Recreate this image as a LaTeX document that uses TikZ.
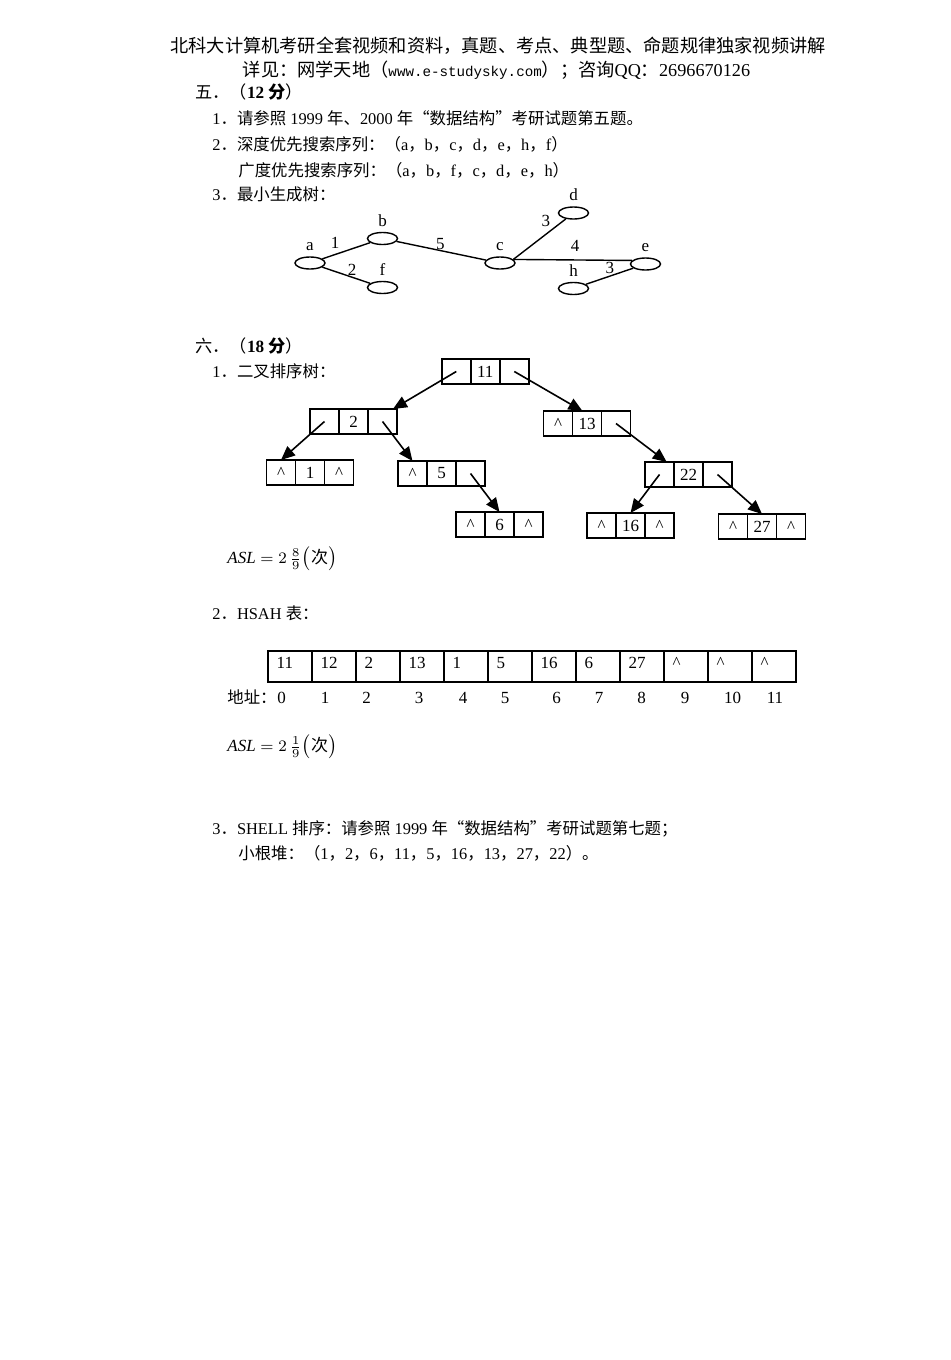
\documentclass[tikz,border=0pt]{standalone}
\usepackage{fontspec}
\setmainfont{Liberation Serif}
\newfontfamily\cjkfont{Noto Sans CJK SC}
\newfontfamily\urlfont{Liberation Mono}[Scale=0.78]
\usetikzlibrary{positioning,arrows.meta,shapes.geometric}

% switch to the CJK font for Chinese characters
\XeTeXinterchartokenstate=1
\newXeTeXintercharclass\cjkclass
\newcount\cjkcount
\newcommand\setcjkrange[2]{%
  \cjkcount=#1\relax
  \loop\ifnum\cjkcount<#2\relax
    \XeTeXcharclass\cjkcount=\cjkclass
    \advance\cjkcount by 1
  \repeat}
\setcjkrange{"3000}{"3040}
\setcjkrange{"4E00}{"A000}
\setcjkrange{"FF00}{"FFF0}
\XeTeXcharclass"201C=\cjkclass
\XeTeXcharclass"201D=\cjkclass
\XeTeXinterchartoks 0 \cjkclass={\cjkfont}
\XeTeXinterchartoks 4095 \cjkclass={\cjkfont}
\XeTeXinterchartoks \cjkclass 0={\rmfamily}
\XeTeXinterchartoks \cjkclass 4095={\rmfamily}

\newcommand\ptrnull{\textasciicircum}
% one tree node: left pointer | key | right pointer
\newcommand\bstnode[5]{%
  \node[cell] (#1) at (#2) {#4};
  \node[cell, left=0pt of #1] (#1-l) {#3};
  \node[cell, right=0pt of #1] (#1-r) {#5};}

\begin{document}
\begin{tikzpicture}[x=0.5pt, y=-0.5pt,
    hdr/.style={font=\fontsize{9.1}{11}\selectfont, anchor=base, inner sep=0pt},
    txt/.style={font=\fontsize{8.2}{10}\selectfont, anchor=base west, inner sep=0pt},
    num/.style={font=\fontsize{8.5}{10}\selectfont, inner sep=0pt},
    vert/.style={draw, ellipse, line width=0.7pt, minimum width=15pt, minimum height=6pt, inner sep=0pt},
    vlab/.style={font=\fontsize{8.5}{10}\selectfont, inner sep=0pt, text depth=0pt},
    wt/.style={font=\fontsize{8.5}{10}\selectfont, inner sep=1pt},
    link/.style={line width=0.7pt},
    cell/.style={draw, line width=0.8pt, minimum width=14.5pt, minimum height=12.5pt,
      inner sep=0pt, outer sep=0pt, font=\fontsize{8.5}{10}\selectfont},
    ptr/.style={line width=0.8pt, -{Triangle[length=7pt, width=6pt]}},
    hcell/.style={draw, line width=0.8pt, anchor=north west, inner xsep=4.5pt, inner ysep=0pt,
      outer sep=0pt, text width=13pt, text height=8.5pt, text depth=7pt, font=\fontsize{8.5}{10}\selectfont},
    label distance=2.5pt]
  \fill[white] (0,0) rectangle (950,1360);
  \useasboundingbox (0,0) rectangle (950,1360);

  % header
  \node[hdr] (head1) at (498,53) {北科大计算机考研全套视频和资料，真题、考点、典型题、命题规律独家视频讲解};
  \node[hdr] (head2) at (496.5,76) {详见：网学天地（{\XeTeXinterchartokenstate=0 \urlfont www.e-studysky.com}）；咨询QQ：2696670126};

  % part five
  \node[txt, font=\fontsize{8.6}{10}\selectfont] (sec5) at (195,98) {五．（\textbf{12 分}）};
  \node[txt] (l51) at (212,124) {1．请参照 1999 年、2000 年“数据结构”考研试题第五题。};
  \node[txt] (l52) at (212,150) {2．深度优先搜索序列：（a，b，c，d，e，h，f）};
  \node[txt] (l52b) at (238,176) {广度优先搜索序列：（a，b，f，c，d，e，h）};
  \node[txt] (l53) at (212,200) {3．最小生成树：};

  % minimum spanning tree
  \node[vert, label={[vlab]above:a}] (a) at (310,263) {};
  \node[vert, label={[vlab]above:b}] (b) at (382.5,238.5) {};
  \node[vert, label={[vlab]above:f}] (f) at (382.5,287.5) {};
  \node[vert, label={[vlab]above:c}] (c) at (500,263) {};
  \node[vert, label={[vlab]above:d}] (d) at (573.5,213) {};
  \node[vert, label={[vlab]above:e}] (e) at (645.5,264) {};
  \node[vert, label={[vlab]above:h}] (h) at (573.5,288.5) {};

  \draw[link] (a) -- node[wt, pos=.27, above=1.5pt] {1} (b);
  \draw[link] (a) -- node[wt, pos=.62, above=-0.5pt] {2} (f);
  \draw[link] (b) -- node[wt, pos=.49, above=-1pt] {5} (c);
  \draw[link] (c.15) -- node[wt, pos=.75, above left] {3} (d);
  \draw[link] (c.15) -- node[wt, pos=.52, above=3pt] {4} (e.165);
  \draw[link] (h) -- node[wt, pos=.51, above] {3} (e);

  % part six
  \node[txt, font=\fontsize{8.6}{10}\selectfont] (sec6) at (195,352) {六．（\textbf{18 分}）};
  \node[txt] (l61) at (212,377) {1．二叉排序树：};

  % binary search tree
  \bstnode{n11}{485.3,371.5}{}{11}{}
  \bstnode{n2}{353.5,421.5}{}{2}{}
  \bstnode{n13}{587,423.5}{\ptrnull}{13}{}
  \bstnode{n1}{310,472.5}{\ptrnull}{1}{\ptrnull}
  \bstnode{n5}{441.5,473.5}{\ptrnull}{5}{}
  \bstnode{n22}{688.5,474.5}{}{22}{}
  \bstnode{n6}{499.5,524.5}{\ptrnull}{6}{\ptrnull}
  \bstnode{n16}{630.5,525.5}{\ptrnull}{16}{\ptrnull}
  \bstnode{n27}{762,526.5}{\ptrnull}{27}{\ptrnull}

  \draw[ptr] (n11-l.center) -- (n2-r.50);
  \draw[ptr] (n11-r.center) -- (n13.110);
  \draw[ptr] (n2-l.center) -- (n1-l.north);
  \draw[ptr] (n2-r.center) -- (n5-l.north);
  \draw[ptr] (n5-r.center) -- (n6.north);
  \draw[ptr] (n13-r.center) -- (n22-l.60);
  \draw[ptr] (n22-l.center) -- (n16.north);
  \draw[ptr] (n22-r.center) -- (n27.north);

  \node[txt, font=\fontsize{8.5}{10}\selectfont] (asl1) at (227,563) {$\mathit{ASL}=2\,\frac{8}{9}\bigl(\mbox{次}\bigr)$};

  % hash table
  \node[txt] (l62) at (212,619) {2．HSAH 表：};
  \foreach \v [count=\i from 0] in {11,12,2,13,1,5,16,6,27,\ptrnull,\ptrnull,\ptrnull}
    \node[hcell] (slot\i) at ({267.7+44*\i},651) {\v};
  \node[txt] (addr) at (227,703) {地址：};
  \foreach \x [count=\i from 0] in {281.7,325,366.7,419,463,505,556.7,599,641.7,685,732.7,775}
    \node[num, anchor=base] (idx\i) at (\x,703) {\i};

  \node[txt, font=\fontsize{8.5}{10}\selectfont] (asl2) at (227,751) {$\mathit{ASL}=2\,\frac{1}{9}\bigl(\mbox{次}\bigr)$};

  \node[txt] (l63) at (212,834) {3．SHELL 排序：请参照 1999 年“数据结构”考研试题第七题；};
  \node[txt] (l63b) at (238,859) {小根堆：（1，2，6，11，5，16，13，27，22）。};
\end{tikzpicture}
\end{document}
